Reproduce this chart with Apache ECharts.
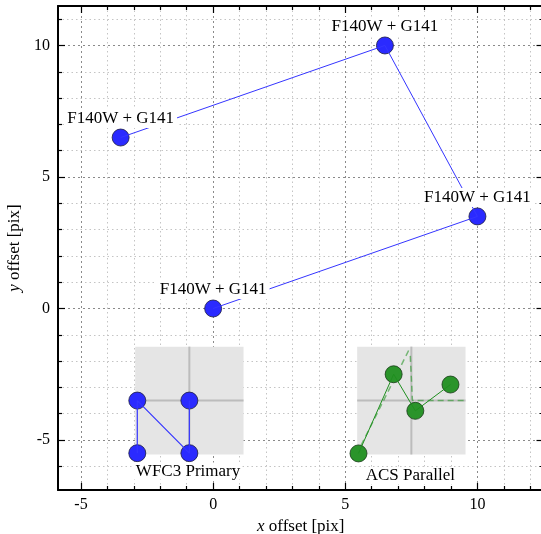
<!DOCTYPE html>
<html>
<head>
<meta charset="utf-8">
<script src="https://cdn.jsdelivr.net/npm/echarts@6/dist/echarts.min.js"></script>
<style>
html,body{margin:0;padding:0;background:#fff;}
#chart{width:541px;height:534px;}
</style>
</head>
<body>
<div id="chart"></div>
<script>
// ---- axis ticks ----
const xMajor = [-5, 0, 5, 10];
const xMinor = [-4, -3, -2, -1, 1, 2, 3, 4, 6, 7, 8, 9, 11, 12];
const yMajor = [-5, 0, 5, 10];
const yMinor = [-6, -4, -3, -2, -1, 1, 2, 3, 4, 6, 7, 8, 9, 11];
const xRange = [-5.87, 12.5];
const yRange = [-6.9, 11.5];

// ---- main dither pattern ----
const mainX = [0, 10, 6.5, -3.5];
const mainY = [0, 3.5, 10, 6.5];
const mainLabels = ['F140W + G141', 'F140W + G141', 'F140W + G141', 'F140W + G141'];

// ---- insets ----
const insetNames = ['WFC3 Primary', 'ACS Parallel'];
const insetCX = [-0.9, 7.5];
const insetCY = [-3.5, -3.5];
const insetHalf = [2.05, 2.05];
const insetNameX = [-0.95, 7.46];
const insetNameY = [-6.18, -6.35];

const wfcX = [-2.87, -2.87, -0.9, -0.9];
const wfcY = [-5.5, -3.5, -5.5, -3.5];

const acsX = [5.5, 6.83, 7.65, 8.98];
const acsY = [-5.51, -2.5, -3.89, -2.89];

// rotated ACS frame (dashed)
const acsFrameAX = [5.6, 7.42];
const acsFrameAY = [-5.2, -1.55];
const acsFrameBX = [7.46, 7.54, 9.5];
const acsFrameBY = [-1.8, -3.5, -3.5];

const FONT = '"Liberation Serif", "DejaVu Serif", serif';
const zip = (xs, ys) => xs.map((x, i) => [x, ys[i]]);

function xAxis(pos, vals, major) {
  return {
    type: 'value', position: pos, min: xRange[0], max: xRange[1],
    axisLine: { show: major, onZero: false, lineStyle: { color: '#000', width: 2 } },
    axisTick: { show: true, inside: true, length: major ? 7 : 4, customValues: vals,
      lineStyle: { color: '#000', width: 1.2 } },
    axisLabel: { show: major && pos === 'bottom', customValues: vals, margin: 7,
      fontFamily: FONT, fontSize: 16, color: '#000' },
    splitLine: { show: pos === 'bottom', lineStyle: major
      ? { color: '#8a8a8a', type: [2, 3], width: 1 }
      : { color: '#c4c4c4', type: [1.5, 3], width: 1 } },
    name: (major && pos === 'bottom') ? '{i|x} offset [pix]' : '',
    nameLocation: 'middle', nameGap: 21,
    nameTextStyle: { fontFamily: FONT, fontSize: 17, color: '#000',
      rich: { i: { fontStyle: 'italic', fontFamily: FONT, fontSize: 17, color: '#000' } } }
  };
}
function yAxis(pos, vals, major) {
  return {
    type: 'value', position: pos, min: yRange[0], max: yRange[1],
    axisLine: { show: major, onZero: false, lineStyle: { color: '#000', width: 2 } },
    axisTick: { show: true, inside: true, length: major ? 7 : 4, customValues: vals,
      lineStyle: { color: '#000', width: 1.2 } },
    axisLabel: { show: major && pos === 'left', customValues: vals, margin: 8,
      fontFamily: FONT, fontSize: 16, color: '#000' },
    splitLine: { show: pos === 'left', lineStyle: major
      ? { color: '#8a8a8a', type: [2, 3], width: 1 }
      : { color: '#c4c4c4', type: [1.5, 3], width: 1 } },
    name: (major && pos === 'left') ? '{i|y} offset [pix]' : '',
    nameLocation: 'middle', nameGap: 30,
    nameTextStyle: { fontFamily: FONT, fontSize: 17, color: '#000',
      rich: { i: { fontStyle: 'italic', fontFamily: FONT, fontSize: 17, color: '#000' } } }
  };
}

const blueMarker = { color: '#2a2aff', borderColor: '#1c1c40', borderWidth: 0.8, opacity: 1 };
const greenMarker = { color: '#2a942a', borderColor: '#173817', borderWidth: 0.8, opacity: 1 };
const hidden = { color: 'rgba(0,0,0,0)', opacity: 1 };

const option = {
  animation: false,
  backgroundColor: '#fff',
  grid: { left: 58, top: 6, right: -2.5, bottom: 44, containLabel: false, outerBoundsMode: 'none' },
  xAxis: [xAxis('bottom', xMajor, true), xAxis('bottom', xMinor, false),
          xAxis('top', xMajor, true), xAxis('top', xMinor, false)],
  yAxis: [yAxis('left', yMajor, true), yAxis('left', yMinor, false),
          yAxis('right', yMajor, true), yAxis('right', yMinor, false)],
  series: [
    {
      type: 'custom', z: 1, silent: true,
      data: insetCX.map((x, i) => [x, insetCY[i], insetHalf[i]]),
      renderItem: function (params, api) {
        const cx = api.value(0), cy = api.value(1), h = api.value(2);
        const p1 = api.coord([cx - h, cy + h]);
        const p2 = api.coord([cx + h, cy - h]);
        const c = api.coord([cx, cy]);
        return { type: 'group', children: [
          { type: 'rect', shape: { x: p1[0], y: p1[1], width: p2[0] - p1[0], height: p2[1] - p1[1] },
            style: { fill: '#e5e5e5' } },
          { type: 'line', shape: { x1: p1[0], y1: c[1], x2: p2[0], y2: c[1] },
            style: { stroke: '#bcbcbc', lineWidth: 2 } },
          { type: 'line', shape: { x1: c[0], y1: p1[1], x2: c[0], y2: p2[1] },
            style: { stroke: '#bcbcbc', lineWidth: 2 } }
        ] };
      }
    },
    { type: 'scatter', z: 3, silent: true, symbolSize: 17, itemStyle: blueMarker, data: zip(mainX, mainY) },
    { type: 'scatter', z: 3, silent: true, symbolSize: 17, itemStyle: blueMarker, data: zip(wfcX, wfcY) },
    { type: 'scatter', z: 3, silent: true, symbolSize: 17, itemStyle: greenMarker, data: zip(acsX, acsY) },
    { type: 'line', z: 4, silent: true, showSymbol: false, symbol: 'none',
      lineStyle: { color: '#3535ff', width: 1 }, data: zip(mainX, mainY) },
    { type: 'line', z: 4, silent: true, showSymbol: false, symbol: 'none',
      lineStyle: { color: '#3535ff', width: 1.2 }, data: zip(wfcX, wfcY) },
    { type: 'line', z: 4, silent: true, showSymbol: false, symbol: 'none',
      lineStyle: { color: '#1f8f1f', width: 1 }, data: zip(acsX, acsY) },
    { type: 'line', z: 2, silent: true, showSymbol: false, symbol: 'none',
      lineStyle: { color: 'rgba(40,150,40,0.6)', width: 1.5, type: [6, 4] }, data: zip(acsFrameAX, acsFrameAY) },
    { type: 'line', z: 2, silent: true, showSymbol: false, symbol: 'none',
      lineStyle: { color: 'rgba(40,150,40,0.6)', width: 1.5, type: [6, 4] }, data: zip(acsFrameBX, acsFrameBY) },
    {
      type: 'scatter', z: 6, silent: true, symbolSize: 1,
      itemStyle: hidden,
      data: mainX.map((x, i) => ({ value: [x, mainY[i]], name: mainLabels[i] })),
      label: { show: true, position: 'top', distance: 9, formatter: p => p.name,
        fontFamily: FONT, fontSize: 17, color: '#000', backgroundColor: '#fff', padding: [1, 3] }
    },
    {
      type: 'scatter', z: 6, silent: true, symbolSize: 1,
      itemStyle: hidden,
      data: insetNameX.map((x, i) => ({ value: [x, insetNameY[i]], name: insetNames[i] })),
      label: { show: true, position: 'inside', formatter: p => p.name,
        fontFamily: FONT, fontSize: 17, color: '#000', backgroundColor: '#fff', padding: [0, 2] }
    }
  ]
};

const chart = echarts.init(document.getElementById('chart'), null, { renderer: 'canvas' });
chart.setOption(option);
</script>
</body>
</html>
